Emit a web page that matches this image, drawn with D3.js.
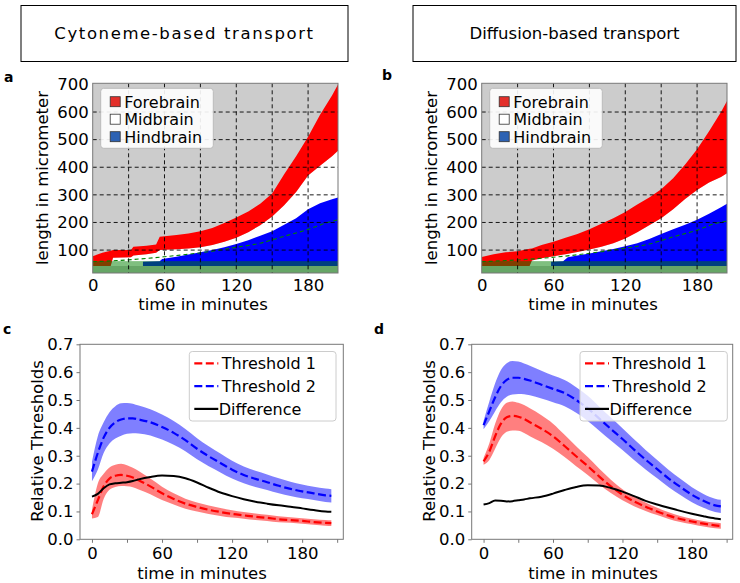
<!DOCTYPE html>
<html><head><meta charset="utf-8">
<script src="https://cdn.jsdelivr.net/npm/d3@7"></script>
<style>
body{margin:0;background:#fff}
text{font-family:"DejaVu Sans",sans-serif;fill:#000}
</style>
</head><body>
<svg id="chart" width="740" height="583"></svg>
<script>
// ---------------- data ----------------
const titles = ["Cytoneme-based transport", "Diffusion-based transport"];
const panelLetters = ["a", "b", "c", "d"];
const regionNames = ["Forebrain", "Midbrain", "Hindbrain"];
const seriesNames = ["Threshold 1", "Threshold 2", "Difference"];
const lengthTicks = [100, 200, 300, 400, 500, 600, 700];
const timeTicks = [0, 60, 120, 180];
const gridTimes = [30, 60, 90, 120, 150, 180];
const thresholdTicks = [0.0, 0.1, 0.2, 0.3, 0.4, 0.5, 0.6, 0.7];
const minorTimeTicks = [0, 30, 60, 90, 120, 150, 180, 210];
const tissueBase = 42;      // bottom of tissue (micrometer)
const overlayTop = 60;      // green overlay band top

// panel a (cytoneme) region boundaries
const aTime     = [0, 8, 15, 17, 32, 34, 45, 53, 56, 70, 80, 90, 100, 110, 120, 130, 140, 150, 160, 170, 180, 190, 200, 205];
const aForeTop  = [78, 90, 98, 100, 100, 112, 116, 120, 148, 155, 160, 168, 180, 198, 218, 240, 268, 305, 375, 440, 510, 590, 660, 700];
const aForeBot  = [42, 42, 42, 72, 74, 80, 85, 90, 100, 103, 106, 110, 118, 130, 145, 165, 190, 222, 262, 310, 370, 405, 440, 460];
const aHindTime = [42, 56, 58, 70, 80, 90, 100, 110, 120, 130, 140, 150, 160, 170, 180, 190, 200, 205];
const aHindTop  = [58, 60, 68, 76, 84, 92, 100, 110, 122, 136, 152, 168, 192, 215, 248, 270, 284, 290];
const aLineTime = [0, 20, 40, 60, 80, 100, 120, 140, 160, 180, 195, 205];
const aLine     = [58, 62, 68, 76, 85, 96, 110, 125, 150, 175, 198, 210];

// panel b (diffusion) region boundaries
const bTime     = [0, 10, 20, 30, 40, 42, 50, 60, 70, 80, 90, 100, 110, 120, 130, 140, 150, 160, 170, 180, 190, 200, 205];
const bForeTop  = [75, 85, 92, 96, 105, 106, 118, 130, 145, 158, 175, 195, 215, 238, 265, 290, 320, 360, 410, 465, 530, 600, 640];
const bForeBot  = [42, 42, 42, 42, 42, 62, 70, 78, 85, 93, 102, 112, 125, 142, 165, 190, 215, 248, 285, 318, 345, 365, 378];
const bHindTime = [58, 68, 72, 80, 90, 100, 110, 120, 130, 140, 150, 160, 170, 180, 190, 200, 205];
const bHindTop  = [58, 60, 74, 80, 88, 96, 104, 114, 125, 140, 158, 175, 192, 210, 232, 255, 268];
const bLineTime = [0, 20, 40, 60, 80, 100, 120, 140, 160, 180, 195, 205];
const bLine     = [58, 62, 67, 74, 83, 94, 107, 122, 148, 172, 196, 205];

// panels c/d thresholds over time
const thrTime = [0, 5, 10, 15, 20, 25, 30, 35, 40, 50, 60, 70, 80, 90, 100, 110, 120, 130, 140, 150, 160, 170, 180, 190, 200, 205];
const cThr1   = [0.09, 0.14, 0.19, 0.218, 0.228, 0.231, 0.228, 0.222, 0.212, 0.19, 0.165, 0.145, 0.128, 0.116, 0.106, 0.098, 0.091, 0.086, 0.081, 0.077, 0.072, 0.069, 0.066, 0.062, 0.059, 0.058];
const cThr1Sd = [0.015, 0.06, 0.045, 0.04, 0.04, 0.04, 0.038, 0.035, 0.033, 0.028, 0.024, 0.02, 0.018, 0.016, 0.015, 0.014, 0.013, 0.012, 0.012, 0.011, 0.011, 0.01, 0.01, 0.01, 0.01, 0.01];
const cThr2   = [0.243, 0.31, 0.365, 0.40, 0.42, 0.43, 0.434, 0.434, 0.43, 0.42, 0.403, 0.382, 0.356, 0.325, 0.298, 0.274, 0.25, 0.231, 0.217, 0.205, 0.192, 0.181, 0.172, 0.165, 0.158, 0.156];
const cThr2Sd = [0.035, 0.06, 0.055, 0.056, 0.058, 0.058, 0.055, 0.053, 0.05, 0.047, 0.045, 0.043, 0.04, 0.038, 0.036, 0.034, 0.032, 0.03, 0.029, 0.028, 0.027, 0.026, 0.025, 0.024, 0.024, 0.024];
const cDiff   = [0.153, 0.163, 0.183, 0.197, 0.201, 0.203, 0.205, 0.209, 0.215, 0.224, 0.229, 0.227, 0.219, 0.204, 0.185, 0.168, 0.155, 0.144, 0.135, 0.128, 0.122, 0.117, 0.111, 0.105, 0.1, 0.099];
const dThr1   = [0.28, 0.315, 0.37, 0.415, 0.438, 0.443, 0.44, 0.432, 0.42, 0.397, 0.37, 0.335, 0.298, 0.263, 0.225, 0.19, 0.16, 0.136, 0.117, 0.1, 0.085, 0.073, 0.064, 0.056, 0.05, 0.048];
const dThr1Sd = [0.012, 0.03, 0.045, 0.05, 0.052, 0.052, 0.05, 0.05, 0.05, 0.048, 0.045, 0.04, 0.036, 0.032, 0.028, 0.024, 0.02, 0.017, 0.015, 0.013, 0.012, 0.011, 0.01, 0.01, 0.01, 0.01];
const dThr2   = [0.41, 0.46, 0.51, 0.55, 0.572, 0.58, 0.58, 0.576, 0.57, 0.555, 0.54, 0.525, 0.5, 0.47, 0.433, 0.396, 0.36, 0.322, 0.286, 0.252, 0.218, 0.188, 0.16, 0.138, 0.122, 0.118];
const dThr2Sd = [0.015, 0.035, 0.05, 0.058, 0.06, 0.06, 0.058, 0.055, 0.053, 0.05, 0.048, 0.047, 0.046, 0.045, 0.043, 0.041, 0.039, 0.037, 0.035, 0.033, 0.031, 0.029, 0.027, 0.025, 0.024, 0.024];
const dDiff   = [0.125, 0.13, 0.139, 0.138, 0.136, 0.137, 0.14, 0.143, 0.147, 0.153, 0.164, 0.177, 0.188, 0.194, 0.193, 0.184, 0.171, 0.155, 0.138, 0.125, 0.113, 0.102, 0.092, 0.083, 0.075, 0.072];

// ---------------- drawing ----------------
const svg = d3.select("#chart");
const FS = 16.5;

// title boxes
const titleBoxes = [{x: 21, w: 327}, {x: 413, w: 323}];
titles.forEach((t, i) => {
  const b = titleBoxes[i];
  svg.append("rect").attr("x", b.x).attr("y", 5.5).attr("width", b.w).attr("height", 56)
    .attr("fill", "#fff").attr("stroke", "#000").attr("stroke-width", 1);
  svg.append("text").attr("x", b.x + b.w / 2).attr("y", 39).attr("text-anchor", "middle")
    .attr("font-size", 16.5).attr("letter-spacing", i === 0 ? 1.6 : 0).text(t);
});

// panel letters
const letterPos = [[4, 82], [382, 80], [3, 334], [374, 334]];
panelLetters.forEach((l, i) => {
  svg.append("text").attr("x", letterPos[i][0]).attr("y", letterPos[i][1])
    .attr("font-size", 14).attr("font-weight", "bold").text(l);
});

// ---------- region panels a/b ----------
function regionPanel(cfg) {
  const x = d3.scaleLinear().domain([0, 205]).range([cfg.left, cfg.right]);
  const y = d3.scaleLinear().domain([17, 704]).range([273, 83.3]);
  const g = svg.append("g");
  const clipId = "clip" + cfg.id;
  svg.append("clipPath").attr("id", clipId).append("rect")
    .attr("x", cfg.left).attr("y", 83.3).attr("width", cfg.right - cfg.left).attr("height", 273 - 83.3);
  const p = g.append("g").attr("clip-path", `url(#${clipId})`);
  p.append("rect").attr("x", cfg.left).attr("y", 83.3).attr("width", cfg.right - cfg.left)
    .attr("height", 273 - 83.3).attr("fill", "#cccccc");

  const fore = cfg.time.map((t, i) => ({t, top: cfg.foreTop[i], bot: cfg.foreBot[i]}));
  const hind = cfg.hindTime.map((t, i) => ({t, top: cfg.hindTop[i]}));
  // midbrain (white): from tissue base up to forebrain bottom
  p.append("path").datum(fore).attr("fill", "#ffffff")
    .attr("d", d3.area().x(d => x(d.t)).y0(y(tissueBase)).y1(d => y(d.bot)));
  // hindbrain (blue)
  p.append("path").datum(hind).attr("fill", "#0000ff")
    .attr("d", d3.area().x(d => x(d.t)).y0(y(tissueBase)).y1(d => y(d.top)));
  // forebrain (red)
  p.append("path").datum(fore).attr("fill", "#ff0000")
    .attr("d", d3.area().x(d => x(d.t)).y0(d => y(d.bot)).y1(d => y(d.top)));
  // translucent green band
  p.append("rect").attr("x", cfg.left).attr("width", cfg.right - cfg.left)
    .attr("y", y(overlayTop)).attr("height", 273 - y(overlayTop))
    .attr("fill", "#008000").attr("fill-opacity", 0.5);
  // dashed green line
  const ln = cfg.lineTime.map((t, i) => ({t, v: cfg.line[i]}));
  p.append("path").datum(ln).attr("fill", "none").attr("stroke", "#008000")
    .attr("stroke-width", 1.1).attr("stroke-dasharray", "4,3")
    .attr("d", d3.line().x(d => x(d.t)).y(d => y(d.v)).curve(d3.curveMonotoneX));
  // grid
  gridTimes.forEach(t => {
    p.append("line").attr("x1", x(t)).attr("x2", x(t)).attr("y1", 83.3).attr("y2", 273)
      .attr("stroke", "#000").attr("stroke-width", 0.9).attr("stroke-dasharray", "4,3");
  });
  lengthTicks.slice(0, 6).forEach(v => {
    p.append("line").attr("x1", cfg.left).attr("x2", cfg.right).attr("y1", y(v)).attr("y2", y(v))
      .attr("stroke", "#000").attr("stroke-width", 0.9).attr("stroke-dasharray", "4,3");
  });
  // frame
  g.append("rect").attr("x", cfg.left).attr("y", 83.3).attr("width", cfg.right - cfg.left)
    .attr("height", 273 - 83.3).attr("fill", "none").attr("stroke", "#777").attr("stroke-width", 1);
  // tick labels
  const ya = g.append("g").attr("transform", `translate(${cfg.left - 4},0)`)
    .call(d3.axisLeft(y).tickValues(lengthTicks).tickSize(0).tickPadding(0).tickFormat(d3.format("d")));
  ya.select(".domain").remove();
  ya.selectAll("text").attr("font-size", FS).attr("font-family", "DejaVu Sans").attr("fill", "#000");
  const xa = g.append("g").attr("transform", `translate(0,${273 + 6})`)
    .call(d3.axisBottom(x).tickValues(timeTicks).tickSize(0).tickPadding(0).tickFormat(d3.format("d")));
  xa.select(".domain").remove();
  xa.selectAll("text").attr("font-size", FS).attr("font-family", "DejaVu Sans").attr("fill", "#000");
  // axis labels
  g.append("text").attr("transform", `translate(${cfg.left - 45},178) rotate(-90)`)
    .attr("text-anchor", "middle").attr("font-size", FS).text("length in micrometer");
  g.append("text").attr("x", cfg.xLabel).attr("y", 310).attr("text-anchor", "middle")
    .attr("font-size", FS).text("time in minutes");
  // legend
  const lx = cfg.left + 8, ly = 88.3;
  g.append("rect").attr("x", lx).attr("y", ly).attr("width", 112.6).attr("height", 60).attr("rx", 3)
    .attr("fill", "#fff").attr("fill-opacity", 0.9).attr("stroke", "#bbb");
  const patchFill = ["#e32f2a", "#ffffff", "#2d62b3"];
  regionNames.forEach((n, i) => {
    const cy = ly + 13.4 + i * 17.5;
    g.append("rect").attr("x", lx + 9.5).attr("y", cy - 5).attr("width", 10).attr("height", 10)
      .attr("fill", patchFill[i]).attr("stroke", "#333").attr("stroke-width", 0.8);
    g.append("text").attr("x", lx + 23.5).attr("y", cy + 6).attr("font-size", 16).text(n);
  });
}

regionPanel({id: "a", left: 92.7, right: 338, xLabel: 203,
  time: aTime, foreTop: aForeTop, foreBot: aForeBot, hindTime: aHindTime, hindTop: aHindTop,
  lineTime: aLineTime, line: aLine});
regionPanel({id: "b", left: 481.7, right: 727, xLabel: 593,
  time: bTime, foreTop: bForeTop, foreBot: bForeBot, hindTime: bHindTime, hindTop: bHindTop,
  lineTime: bLineTime, line: bLine});

// ---------- threshold panels c/d ----------
function thresholdPanel(cfg) {
  const top = 344.3, bot = 539.3;
  const x = d3.scaleLinear().domain([-10.25, 215.25]).range([cfg.left, cfg.right]);
  const y = d3.scaleLinear().domain([0, 0.7]).range([bot, top]);
  const g = svg.append("g");
  const mk = (m, s) => thrTime.map((t, i) => ({t, m: m[i], s: s ? s[i] : 0}));
  const area = d3.area().x(d => x(d.t)).y0(d => y(d.m - d.s)).y1(d => y(d.m + d.s)).curve(d3.curveMonotoneX);
  const line = d3.line().x(d => x(d.t)).y(d => y(d.m)).curve(d3.curveMonotoneX);
  g.append("path").datum(mk(cfg.thr2, cfg.thr2Sd)).attr("fill", "#0000ff").attr("fill-opacity", 0.5).attr("d", area);
  g.append("path").datum(mk(cfg.thr1, cfg.thr1Sd)).attr("fill", "#ff0000").attr("fill-opacity", 0.5).attr("d", area);
  g.append("path").datum(mk(cfg.thr1)).attr("fill", "none").attr("stroke", "#ff0000")
    .attr("stroke-width", 2.2).attr("stroke-dasharray", "8,3.5").attr("d", line);
  g.append("path").datum(mk(cfg.thr2)).attr("fill", "none").attr("stroke", "#0000ff")
    .attr("stroke-width", 2.2).attr("stroke-dasharray", "8,3.5").attr("d", line);
  g.append("path").datum(mk(cfg.diff)).attr("fill", "none").attr("stroke", "#000")
    .attr("stroke-width", 2).attr("d", line);
  // frame
  g.append("rect").attr("x", cfg.left).attr("y", top).attr("width", cfg.right - cfg.left)
    .attr("height", bot - top).attr("fill", "none").attr("stroke", "#777").attr("stroke-width", 1);
  // axes
  const ya = g.append("g").attr("transform", `translate(${cfg.left},0)`)
    .call(d3.axisLeft(y).tickValues(thresholdTicks).tickSize(3.5).tickPadding(3).tickFormat(d3.format(".1f")));
  ya.select(".domain").remove();
  ya.selectAll("line").attr("stroke", "#777");
  ya.selectAll("text").attr("font-size", FS).attr("font-family", "DejaVu Sans").attr("fill", "#000");
  const xa = g.append("g").attr("transform", `translate(0,${bot})`)
    .call(d3.axisBottom(x).tickValues(minorTimeTicks).tickSize(3.5).tickPadding(4)
      .tickFormat(d => timeTicks.includes(d) ? d : ""));
  xa.select(".domain").remove();
  xa.selectAll("line").attr("stroke", "#777");
  xa.selectAll("text").attr("font-size", FS).attr("font-family", "DejaVu Sans").attr("fill", "#000");
  // labels
  g.append("text").attr("transform", `translate(${cfg.left - 37},441) rotate(-90)`)
    .attr("text-anchor", "middle").attr("font-size", FS).text("Relative Thresholds");
  g.append("text").attr("x", cfg.xLabel).attr("y", 578.5).attr("text-anchor", "middle")
    .attr("font-size", FS).text("time in minutes");
  // legend
  const lx = cfg.legendX, ly = 351.5, lw = cfg.legendW;
  g.append("rect").attr("x", lx).attr("y", ly).attr("width", lw).attr("height", 69.5).attr("rx", 3)
    .attr("fill", "#fff").attr("fill-opacity", 0.8).attr("stroke", "#ccc");
  const legStroke = ["#ff0000", "#0000ff", "#000"];
  seriesNames.forEach((n, i) => {
    const cy = ly + 11.8 + i * 22.8;
    g.append("line").attr("x1", lx + 5).attr("x2", lx + 29).attr("y1", cy).attr("y2", cy)
      .attr("stroke", legStroke[i]).attr("stroke-width", 2.2)
      .attr("stroke-dasharray", i < 2 ? "8,3.5" : null);
    g.append("text").attr("x", lx + (i < 2 ? 32.5 : 29.5)).attr("y", cy + 6).attr("font-size", 16).text(n);
  });
}

thresholdPanel({left: 80, right: 343.3, xLabel: 202, legendX: 189.3, legendW: 146.7,
  thr1: cThr1, thr1Sd: cThr1Sd, thr2: cThr2, thr2Sd: cThr2Sd, diff: cDiff});
thresholdPanel({left: 471.7, right: 732.7, xLabel: 593, legendX: 580, legendW: 147.3,
  thr1: dThr1, thr1Sd: dThr1Sd, thr2: dThr2, thr2Sd: dThr2Sd, diff: dDiff});
</script>
</body></html>
